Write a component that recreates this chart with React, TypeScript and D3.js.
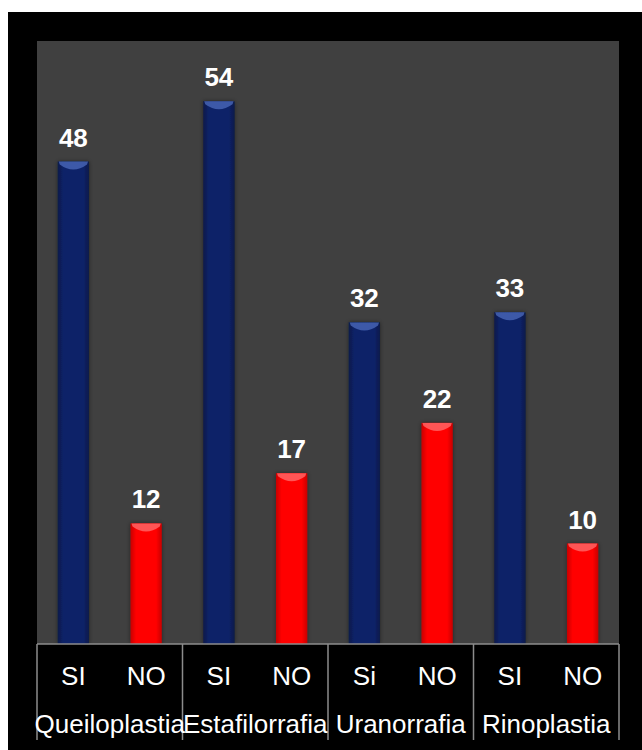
import React from "react";
import * as d3 from "d3";

const categories = ["Queiloplastia", "Estafilorrafia", "Uranorrafia", "Rinoplastia"];
const siLabels = ["SI", "SI", "Si", "SI"];
const noLabels = ["NO", "NO", "NO", "NO"];
const siValues = [48, 54, 32, 33];
const noValues = [12, 17, 22, 10];

const W = 642;
const H = 750;
const plot = { left: 37, right: 619, top: 41, bottom: 644 };
const FONT = "'Liberation Sans', Arial, sans-serif";

type Bar = { key: string; label: string; value: number; kind: "si" | "no"; group: number };

const bars: Bar[] = categories.flatMap((c, i) => [
  { key: `${c}-si`, label: siLabels[i], value: siValues[i], kind: "si" as const, group: i },
  { key: `${c}-no`, label: noLabels[i], value: noValues[i], kind: "no" as const, group: i },
]);

const App: React.FC = () => {
  const x = d3
    .scaleBand<string>()
    .domain(bars.map((d) => d.key))
    .range([plot.left, plot.right])
    .paddingInner(0.57)
    .paddingOuter(0.285);

  const groupX = d3
    .scaleBand<string>()
    .domain(categories)
    .range([plot.left, plot.right]);

  const y = d3.scaleLinear().domain([0, 60]).range([plot.bottom, plot.top]);

  const bw = x.bandwidth();

  return (
    <svg
      width={W}
      height={H}
      style={{ position: "absolute", left: 0, top: 0, background: "#fff" }}
    >
      <defs>
        <linearGradient id="gSi" x1="0" x2="1" y1="0" y2="0">
          <stop offset="0" stopColor="#0a1a4a" />
          <stop offset="0.18" stopColor="#0a2268" />
          <stop offset="0.82" stopColor="#0a2268" />
          <stop offset="1" stopColor="#0a1a4a" />
        </linearGradient>
        <linearGradient id="gNo" x1="0" x2="1" y1="0" y2="0">
          <stop offset="0" stopColor="#c80000" />
          <stop offset="0.18" stopColor="#ff0000" />
          <stop offset="0.82" stopColor="#ff0000" />
          <stop offset="1" stopColor="#c80000" />
        </linearGradient>
        <filter id="shadow" x="-30%" y="-5%" width="160%" height="110%">
          <feGaussianBlur in="SourceAlpha" stdDeviation="2" />
          <feOffset dx="0" dy="0" result="b" />
          <feFlood floodColor="#000" floodOpacity="0.45" />
          <feComposite in2="b" operator="in" />
          <feMerge>
            <feMergeNode />
            <feMergeNode in="SourceGraphic" />
          </feMerge>
        </filter>
      </defs>

      <rect x={8} y={12} width={W - 8} height={H - 12} fill="#000" />
      <rect
        x={plot.left}
        y={plot.top}
        width={plot.right - plot.left}
        height={plot.bottom - plot.top}
        fill="#404040"
      />

      {bars.map((d) => {
        const x0 = x(d.key) ?? 0;
        const top = y(d.value);
        const hl = d.kind === "si" ? "#4a68b8" : "#ff6a6a";
        return (
          <g key={d.key}>
            <rect
              x={x0}
              y={top}
              width={bw}
              height={plot.bottom - top}
              fill={d.kind === "si" ? "url(#gSi)" : "url(#gNo)"}
              filter="url(#shadow)"
            />
            <path
              d={`M${x0 + 1},${top} L${x0 + bw - 1},${top} L${x0 + bw - 2},${top + 3} Q${x0 + bw / 2},${top + 13} ${x0 + 2},${top + 3} Z`}
              fill={hl}
              opacity={0.8}
            />
            <text
              x={x0 + bw / 2}
              y={top - 15}
              textAnchor="middle"
              fill="#fff"
              fontFamily={FONT}
              fontWeight="bold"
              fontSize={26}
            >
              {d.value}
            </text>
          </g>
        );
      })}

      <line
        x1={plot.left}
        x2={plot.right}
        y1={plot.bottom}
        y2={plot.bottom}
        stroke="#8c8c8c"
        strokeWidth={1.5}
      />
      {[...categories.map((c) => groupX(c) ?? 0), plot.right].map((gx, i) => (
        <line
          key={i}
          x1={gx}
          x2={gx}
          y1={plot.bottom}
          y2={740}
          stroke="#8c8c8c"
          strokeWidth={1.5}
        />
      ))}

      {bars.map((d) => (
        <text
          key={`l-${d.key}`}
          x={(x(d.key) ?? 0) + bw / 2}
          y={685}
          textAnchor="middle"
          fill="#fff"
          fontFamily={FONT}
          fontSize={26}
        >
          {d.label}
        </text>
      ))}

      {categories.map((c) => (
        <text
          key={`c-${c}`}
          x={(groupX(c) ?? 0) + groupX.bandwidth() / 2}
          y={733}
          textAnchor="middle"
          fill="#fff"
          fontFamily={FONT}
          fontSize={26}
        >
          {c}
        </text>
      ))}
    </svg>
  );
};

export default App;
